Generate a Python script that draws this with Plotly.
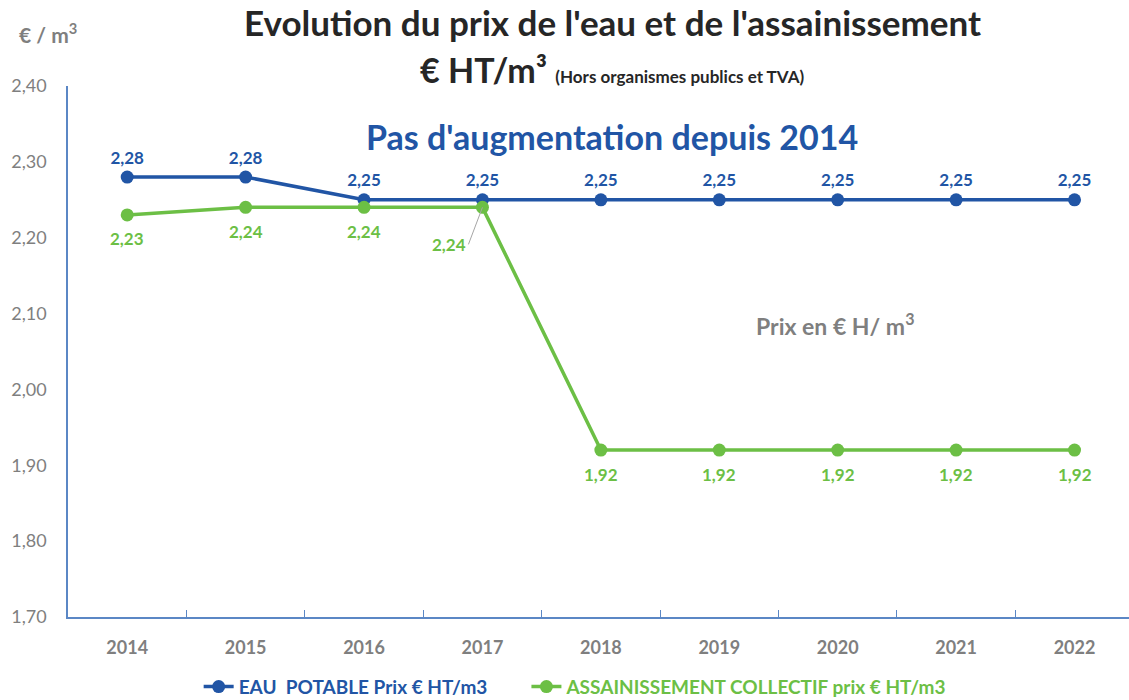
import plotly.graph_objects as go

years = ["2014", "2015", "2016", "2017", "2018", "2019", "2020", "2021", "2022"]
eau_potable = [2.28, 2.28, 2.25, 2.25, 2.25, 2.25, 2.25, 2.25, 2.25]
assainissement = [2.23, 2.24, 2.24, 2.24, 1.92, 1.92, 1.92, 1.92, 1.92]
y_ticks = [1.70, 1.80, 1.90, 2.00, 2.10, 2.20, 2.30, 2.40]

BLUE = "#2155A5"
GREEN = "#6CBF45"
GREY = "#7F7F7F"
AXIS = "#5B87C5"
FONT = "Lato, 'Open Sans', sans-serif"

xs = list(range(len(years)))


def fmt(v):
    return ("%.2f" % v).replace(".", ",")


fig = go.Figure()
fig.add_trace(go.Scatter(
    x=xs, y=eau_potable, mode="lines+markers+text",
    name="<b><span style='color:%s'>EAU  POTABLE Prix € HT/m3</span></b>" % BLUE
         + "&nbsp;" * 7,
    line=dict(color=BLUE, width=3.5), marker=dict(color=BLUE, size=13),
    texttemplate="%{y:.2f}", textposition="top center",
    textfont=dict(color=BLUE, size=17, family=FONT, weight="bold"),
    cliponaxis=False,
))
fig.add_trace(go.Scatter(
    x=xs, y=assainissement, mode="lines+markers",
    name="<b><span style='color:%s'>ASSAINISSEMENT COLLECTIF prix € HT/m3</span></b>" % GREEN,
    line=dict(color=GREEN, width=3.5), marker=dict(color=GREEN, size=13),
    cliponaxis=False,
))

# green data labels below the points (2017 one uses a leader line)
for i, (x, v) in enumerate(zip(xs, assainissement)):
    if i == 3:
        fig.add_annotation(
            x=x, y=v, xref="x", yref="y", text="<b>%s</b>" % fmt(v),
            showarrow=True, arrowhead=0, arrowwidth=1, arrowcolor="#A6A6A6",
            ax=-14, ay=37, xanchor="right", yanchor="middle",
            font=dict(color=GREEN, size=17, family=FONT),
        )
    else:
        fig.add_annotation(
            x=x, y=v, xref="x", yref="y", text="<b>%s</b>" % fmt(v),
            showarrow=False, yshift=-24, xanchor="center", yanchor="middle",
            font=dict(color=GREEN, size=17, family=FONT),
        )

fig.add_annotation(
    x=0.513, y=1.0, xref="paper", yref="paper", yshift=64,
    text="<b>Evolution du prix de l'eau et de l'assainissement</b>",
    showarrow=False, xanchor="center", yanchor="middle",
    font=dict(color="#262626", size=35, family=FONT),
)
fig.add_annotation(
    x=0.513, y=1.0, xref="paper", yref="paper", yshift=17,
    text="<b>€ HT/m³ <span style='font-size:17px'>(Hors organismes publics et TVA)</span></b>",
    showarrow=False, xanchor="center", yanchor="middle",
    font=dict(color="#262626", size=34, family=FONT),
)
fig.add_annotation(
    x=0.513, y=1.0, xref="paper", yref="paper", yshift=-50,
    text="<b>Pas d'augmentation depuis 2014</b>",
    showarrow=False, xanchor="center", yanchor="middle",
    font=dict(color=BLUE, size=34, family=FONT),
)
fig.add_annotation(
    x=0.723, y=0.551, xref="paper", yref="paper",
    text="<b>Prix en € H/ m<sup>3</sup></b>",
    showarrow=False, xanchor="center", yanchor="middle",
    font=dict(color=GREY, size=23, family=FONT),
)
fig.add_annotation(
    x=0.0, y=1.0, xref="paper", yref="paper", xshift=-20, yshift=53,
    text="<b>€ / m<sup>3</sup></b>",
    showarrow=False, xanchor="center", yanchor="middle",
    font=dict(color=GREY, size=21, family=FONT),
)

fig.update_layout(
    width=1129, height=700,
    margin=dict(l=68, r=0, t=86, b=83, autoexpand=False),
    plot_bgcolor="white", paper_bgcolor="white",
    separators=", ",
    font=dict(family=FONT, color=GREY),
    showlegend=True,
    legend=dict(orientation="h", x=0.478, xanchor="center",
                yref="container", y=0.019, yanchor="middle",
                font=dict(size=19, family=FONT), tracegroupgap=0,
                itemwidth=30),
    xaxis=dict(
        range=[-0.5, len(years) - 0.54], automargin=False,
        tickmode="array", tickvals=xs, ticktext=["<b>%s</b>" % y for y in years],
        ticks="", showgrid=False, zeroline=False,
        showline=True, linecolor=AXIS, linewidth=1.5,
        tickfont=dict(size=18, color=GREY, family=FONT),
        ticklabelstandoff=14,
        minor=dict(tickmode="array", tickvals=[i + 0.5 for i in xs[:-1]],
                   ticks="inside", ticklen=7, tickcolor=AXIS, tickwidth=1),
    ),
    yaxis=dict(
        range=[y_ticks[0], y_ticks[-1]], automargin=False,
        tickmode="array", tickvals=y_ticks, tickformat=".2f",
        showgrid=False, zeroline=False,
        showline=True, linecolor=AXIS, linewidth=1.5,
        tickfont=dict(size=18, color=GREY, family=FONT),
        ticklabelstandoff=16,
    ),
)

fig.write_html(
    "out.html",
    config={"displayModeBar": False},
    post_script="document.body.style.margin='0';document.body.style.overflow='hidden';",
)
